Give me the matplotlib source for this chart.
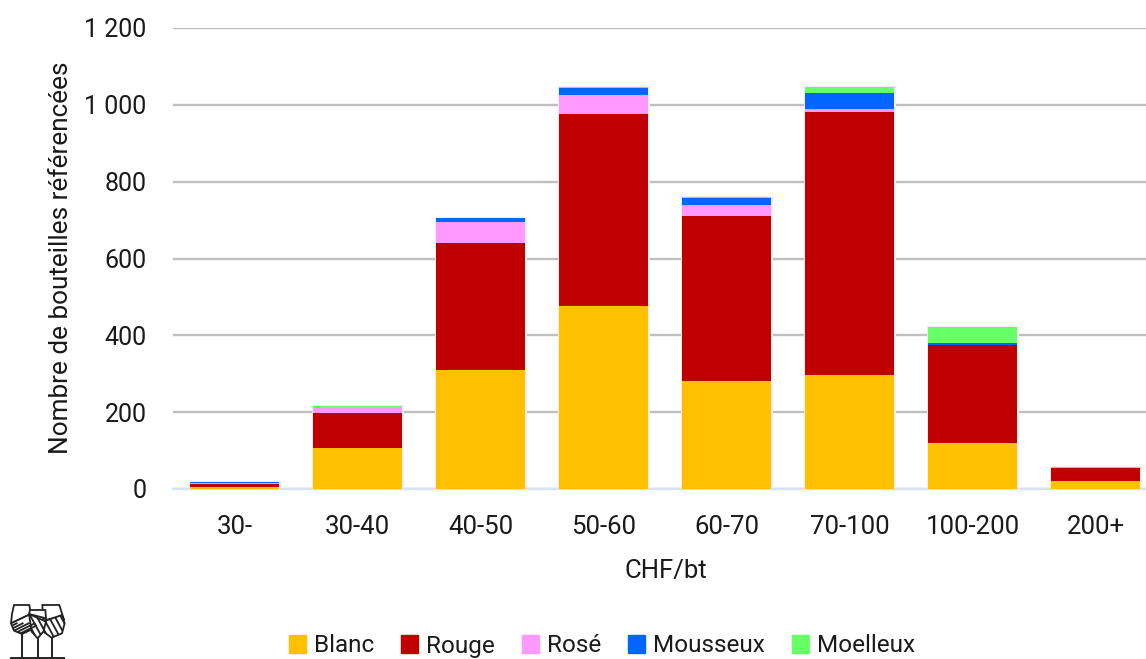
import numpy as np
import matplotlib
matplotlib.use("Agg")
import matplotlib.pyplot as plt
from matplotlib.patches import Polygon, Patch
import matplotlib.patheffects as pe

plt.rcParams['font.family'] = ['Roboto', 'DejaVu Sans']

categories = ["30-", "30-40", "40-50", "50-60", "60-70", "70-100", "100-200", "200+"]
blanc = [5, 108, 310, 477, 282, 297, 120, 20]
rouge = [9, 90, 330, 498, 428, 685, 255, 35]
rose = [2, 15, 55, 50, 28, 8, 0, 0]
mousseux = [3, 1, 10, 20, 19, 42, 5, 0]
moelleux = [0, 3, 0, 2, 3, 15, 42, 1]
yticks = [0, 200, 400, 600, 800, 1000, 1200]
ytick_labels = ["0", "200", "400", "600", "800", "1 000", "1 200"]

series = [("Blanc", blanc, "#FFC000"), ("Rouge", rouge, "#C00000"),
          ("Rosé", rose, "#FF99FF"), ("Mousseux", mousseux, "#0066FF"),
          ("Moelleux", moelleux, "#66FF66")]

W, H = 1146, 659
fig = plt.figure(figsize=(W / 100, H / 100), dpi=100)
# the plot area runs a little past the right edge of the picture
ax = fig.add_axes([173 / W, 1 - 489 / H, 984 / W, (489 - 28) / H])

x = np.arange(len(categories))
totals = np.sum([s[1] for s in series], axis=0)
ax.bar(x, totals, 0.724, color="white", zorder=2, linewidth=0,
       path_effects=[pe.withStroke(linewidth=2.2, foreground="#F0F0F0")])
bottom = np.zeros(len(categories))
for name, vals, col in series:
    vals = np.array(vals, dtype=float)
    ax.bar(x, vals, 0.724, bottom=bottom, color=col, zorder=3, linewidth=0)
    bottom += vals

ax.set_xlim(-0.5, len(categories) - 0.5)
ax.set_ylim(0, 1200)
ax.set_yticks(yticks)
ax.set_yticklabels(ytick_labels)
ax.set_xticks(x)
ax.set_xticklabels(categories)
ax.tick_params(length=0, labelsize=18, colors="#1a1a1a")
ax.tick_params(axis="x", labelsize=18.5, pad=19)
ax.tick_params(axis="y", pad=19)
ax.grid(axis="y", color="#BFBFBF", linewidth=1.7, zorder=0)
ax.set_axisbelow(True)
for s in ["top", "right", "left"]:
    ax.spines[s].set_visible(False)
ax.spines["bottom"].set_color("#D5E3F2")
ax.spines["bottom"].set_linewidth(1.7)
fig.text(666 / W, 1 - 571 / H, "CHF/bt", ha="center", va="center", fontsize=18.5, color="#1a1a1a")
fig.text(61 / W, 1 - 258 / H, "Nombre de bouteilles référencées", rotation=90,
         ha="center", va="center", fontsize=18.8, color="#1a1a1a")

handles = [Patch(color=c, label=n) for n, v, c in series]
fig.legend(handles=handles, loc="center", bbox_to_anchor=(602 / W, 1 - 646 / H), ncol=5,
           frameon=False, fontsize=17.5, handlelength=0.7, handleheight=0.7,
           handletextpad=0.33, columnspacing=1.1, labelcolor="#1a1a1a")

# logo, drawn in zoomed crop coordinates
logo = fig.add_axes([0, 0, 120 / W, 69 / H])
logo.set_xlim(0, 360)
logo.set_ylim(207, 0)
logo.axis("off")
glasses = [
    ([(42, 45), (88, 45), (92, 72), (33, 100), (36, 72)], [(33, 100), (92, 72), (113, 110), (66, 132), (42, 122)], 66, 132, 1),
    ([(127, 45), (178, 45), (192, 90), (186, 78), (130, 92)], [(186, 75), (194, 100), (186, 130), (155, 143), (130, 125), (128, 95)], 155, 143, -1),
    ([(90, 60), (136, 60), (138, 85), (87, 72)], [(87, 72), (138, 95), (130, 125), (113, 145), (95, 125)], 113, 145, -1),
]
for upper, lower, sx, sy, sign in glasses:
    logo.add_patch(Polygon(upper, closed=True, fc="white", ec="#222222", lw=1.3, zorder=2))
    clip = Polygon(lower, closed=True, fc="white", ec="#222222", lw=1.3, zorder=2)
    logo.add_patch(clip)
    for off in range(-140, 340, 18):
        if sign > 0:
            ln, = logo.plot([off, off + 100], [150, 100], color="#222222", lw=1.3, zorder=3)
        else:
            ln, = logo.plot([off, off + 60], [50, 160], color="#222222", lw=1.3, zorder=3)
        ln.set_clip_path(clip)
    logo.plot([sx, sx], [sy, 205], color="#222222", lw=1.4, zorder=1)
logo.plot([32, 192], [205, 205], color="#222222", lw=1.4)

fig.savefig("out.png", dpi=100)
